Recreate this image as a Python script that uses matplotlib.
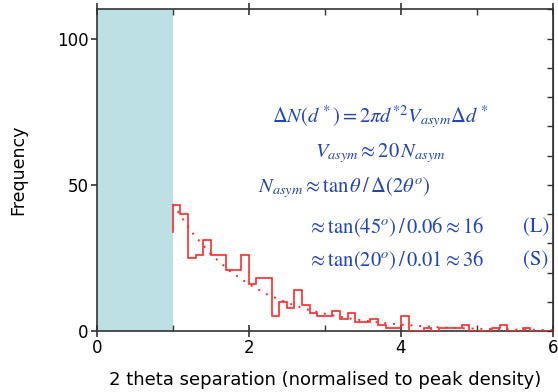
import numpy as np
import matplotlib
matplotlib.use("Agg")
import matplotlib.pyplot as plt
from matplotlib.ticker import MultipleLocator

plt.rcParams['mathtext.fontset'] = 'stix'

# histogram of 2-theta separations (bin width 0.1, starting at the exclusion edge)
bin_edges = np.round(np.arange(1.0, 6.01, 0.1), 2)
counts = [43, 40, 25, 26, 31, 26, 26, 21, 21, 26,
          16, 18, 18, 5, 10, 8, 14, 9, 6, 5,
          5, 7, 4, 6, 3, 3, 4, 2, 1, 1,
          5, 0, 0, 1, 0, 1, 1, 1, 2, 0,
          0, 0, 1, 2, 0, 0, 1, 0, 0, 0]
entry_count = 34  # level of the bin just inside the excluded zone

# fitted decay curve
fit_x = [1.0, 1.25, 1.5, 1.75, 2.0, 2.25, 2.5, 2.75, 3.0, 3.25, 3.5,
         3.75, 4.0, 4.25, 4.5, 4.75, 5.0, 5.25, 5.5, 5.75, 6.0]
fit_y = [43.4, 33.8, 26.3, 20.5, 16.0, 12.4, 9.7, 7.5, 5.9, 4.6, 3.6,
         2.8, 2.2, 1.7, 1.3, 1.0, 0.8, 0.6, 0.5, 0.4, 0.3]

excluded = (0.0, 1.0)

eq_lines = [
    r'$\Delta N\left(d^*\right) = 2\pi d^{*2} V_{asym} \Delta d^*$',
    r'$V_{asym} \approx 20\,N_{asym}$',
    r'$N_{asym} \approx \tan\theta\,/\,\Delta\left(2\theta^o\right)$',
    r'$\approx \tan(45^o)\,/\,0.06 \approx 16$',
    r'$\approx \tan(20^o)\,/\,0.01 \approx 36$',
]
eq_tags = ['(L)', '(S)']

W, H = 558, 392
fig = plt.figure(figsize=(W / 100, H / 100), dpi=100)
ax = fig.add_axes([96.7 / W, 1 - 331 / H, (553 - 96.7) / W, (331 - 9.3) / H])

red = '#ff2a2a'
ax.stairs(counts, bin_edges, baseline=None, color=red, lw=1.2, zorder=3)
ax.plot([bin_edges[0], bin_edges[0]], [entry_count, counts[0]], color=red, lw=1.2, zorder=3)
ax.plot(fit_x, fit_y, color=red, lw=1.4, linestyle=(0, (1, 3.5)), zorder=3)

ax.axvspan(*excluded, color='#bce0e4', lw=0, zorder=1)

ax.set_xlim(0, 6)
ax.set_ylim(0, 110)

for s in ax.spines.values():
    s.set_color('#333333')
    s.set_linewidth(1.2)

ax.xaxis.set_major_locator(MultipleLocator(2))
ax.xaxis.set_minor_locator(MultipleLocator(1))
ax.yaxis.set_major_locator(MultipleLocator(50))
ax.yaxis.set_minor_locator(MultipleLocator(10))
ax.tick_params(axis='x', which='major', direction='inout', length=9, width=1.2,
               color='#333333', top=True, labelsize=12, pad=1)
ax.tick_params(axis='x', which='minor', direction='in', length=4, width=1.0,
               color='#333333', top=True)
ax.tick_params(axis='y', which='major', direction='out', length=4, width=1.2,
               color='#333333', labelsize=12, pad=2)
ax.tick_params(axis='y', which='minor', direction='in', length=0)

# right-hand spine carries its own inward ticks every 10
rax = ax.secondary_yaxis('right')
rax.yaxis.set_major_locator(MultipleLocator(10))
rax.tick_params(direction='in', length=4, width=1.0, color='#333333', labelright=False)
rax.spines['right'].set_color('#333333')

ax.set_xlabel('2 theta separation (normalised to peak density)', fontsize=13, labelpad=10)
ax.set_ylabel('Frequency', fontsize=12.5, labelpad=21)

blue = '#2244bb'
eq_pos = [(272, 117), (315, 153), (258, 188), (308, 227), (308, 260)]
for txt, (px, py) in zip(eq_lines, eq_pos):
    fig.text(px / W, 1 - py / H, txt, color=blue, fontsize=14.8, ha='left', va='center')
for txt, py in zip(eq_tags, [227, 260]):
    fig.text(523 / W, 1 - py / H, txt, color=blue, fontsize=14.8, ha='left', va='center',
             family='STIXGeneral')

fig.savefig('out.png', dpi=100)
